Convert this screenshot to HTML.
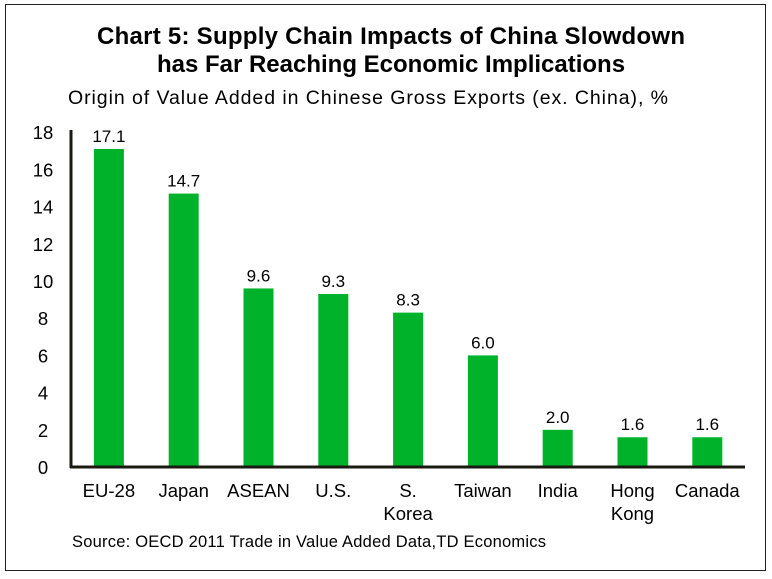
<!DOCTYPE html>
<html><head><meta charset="utf-8"><style>
body{margin:0;background:#fff;}
svg{display:block;font-family:"Liberation Sans",Arial,sans-serif;}
</style></head><body>
<svg id="chart" width="772" height="579">
<rect x="5.5" y="4.5" width="760" height="566" fill="none" stroke="#222" stroke-width="1"/>
<text x="391" y="44" text-anchor="middle" font-size="24" font-weight="bold" textLength="588">Chart 5: Supply Chain Impacts of China Slowdown</text>
<text x="391" y="72" text-anchor="middle" font-size="24" font-weight="bold">has Far Reaching Economic Implications</text>
<text x="368" y="104" text-anchor="middle" font-size="19.5" textLength="600">Origin of Value Added in Chinese Gross Exports (ex. China), %</text>
<g id="yticks"></g><g id="bars"></g><g id="xlabels"></g>
<line x1="71" y1="130" x2="71" y2="468" stroke="#1a1a10" stroke-width="3"/>
<line x1="70" y1="467" x2="745" y2="467" stroke="#1a1a10" stroke-width="3"/>
<text x="72" y="547" font-size="16.5" textLength="474">Source: OECD 2011 Trade in Value Added Data,TD Economics</text>
</svg>
<script>
const categories=[["EU-28"],["Japan"],["ASEAN"],["U.S."],["S.","Korea"],["Taiwan"],["India"],["Hong","Kong"],["Canada"]];
const values=[17.1,14.7,9.6,9.3,8.3,6.0,2.0,1.6,1.6];
const yTicks=[0,2,4,6,8,10,12,14,16,18];
const NS="http://www.w3.org/2000/svg";
const y0=467,pxPer=18.6,x0=71,step=74.8,bw=30;
const y=v=>y0-v*pxPer;
const xc=i=>x0+step*(i+0.5)+0.5;
function mk(t,a,txt){const e=document.createElementNS(NS,t);for(const k in a)e.setAttribute(k,a[k]);if(txt!=null)e.textContent=txt;return e;}
const gy=document.getElementById('yticks');
yTicks.forEach(v=>{const t=mk('text',{x:43,y:y(v)+7,'text-anchor':'middle','font-size':18.5},String(v));


gy.appendChild(t);});
const gb=document.getElementById('bars'),gx=document.getElementById('xlabels');
values.forEach((v,i)=>{
const r=mk('rect',{x:xc(i)-bw/2,y:y(v),width:bw,height:y0-y(v),fill:'#00b22a'});


gb.appendChild(r);
const l=mk('text',{x:xc(i),y:y(v)-7,'text-anchor':'middle','font-size':17},v.toFixed(1));


gb.appendChild(l);
categories[i].forEach((s,j)=>{const t=mk('text',{x:xc(i),y:497+j*23,'text-anchor':'middle','font-size':18.5},s);


gx.appendChild(t);});
});
</script>
</body></html>
